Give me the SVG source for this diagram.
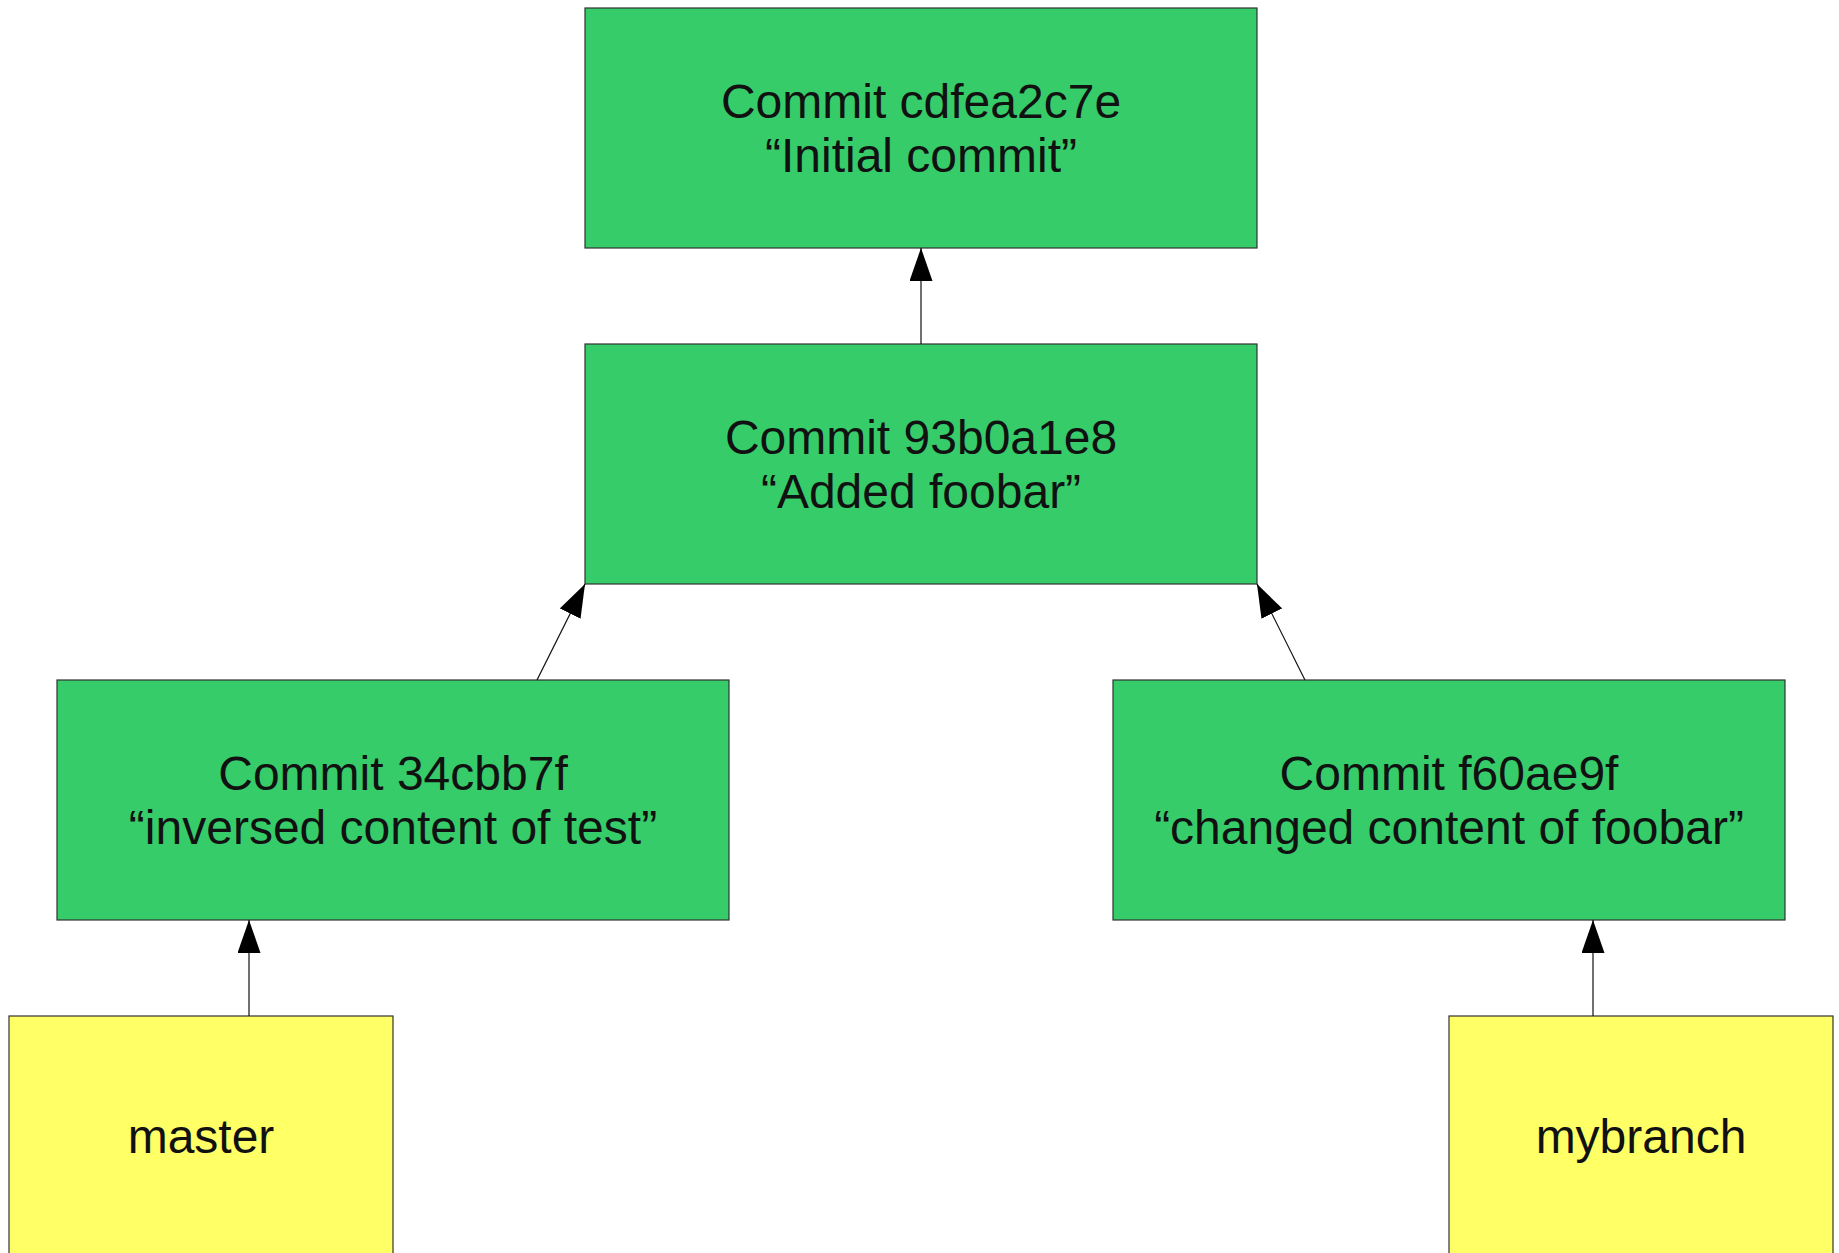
<svg xmlns="http://www.w3.org/2000/svg" width="1839" height="1253" viewBox="0 0 1839 1253">
<style>
.commit{fill:#36cc6a;stroke:#333;stroke-width:1.2}
.ref{fill:#ffff66;stroke:#333;stroke-width:1.2}
text{font-family:"Liberation Sans",Arial,sans-serif;font-size:48px;fill:#111;text-anchor:middle}
.edge{stroke:#111;stroke-width:1.2;fill:none;marker-end:url(#arrow)}
</style>
<defs>
<marker id="arrow" viewBox="0 0 33 23" refX="33" refY="11.5" markerWidth="33" markerHeight="23" markerUnits="userSpaceOnUse" orient="auto">
<path d="M0,0 L33,11.5 L0,23 z" fill="#000"/>
</marker>
</defs>
<rect width="1839" height="1253" fill="#fff"/>
<g id="c-cdfea2c7e">
<rect class="commit" x="585" y="8" width="672" height="240"/>
<text x="921" y="118">Commit cdfea2c7e</text>
<text x="921" y="172">“Initial commit”</text>
</g>
<g id="c-93b0a1e8">
<rect class="commit" x="585" y="344" width="672" height="240"/>
<text x="921" y="454">Commit 93b0a1e8</text>
<text x="921" y="508">“Added foobar”</text>
</g>
<g id="c-34cbb7f">
<rect class="commit" x="57" y="680" width="672" height="240"/>
<text x="393" y="790">Commit 34cbb7f</text>
<text x="393" y="844">“inversed content of test”</text>
</g>
<g id="c-f60ae9f">
<rect class="commit" x="1113" y="680" width="672" height="240"/>
<text x="1449" y="790">Commit f60ae9f</text>
<text x="1449" y="844">“changed content of foobar”</text>
</g>
<g id="master">
<rect class="ref" x="9" y="1016" width="384" height="240"/>
<text x="201" y="1153">master</text>
</g>
<g id="mybranch">
<rect class="ref" x="1449" y="1016" width="384" height="240"/>
<text x="1641" y="1153">mybranch</text>
</g>
<g id="connectors">
<line class="edge" x1="921" y1="344" x2="921" y2="248"/>
<line class="edge" x1="537" y1="680" x2="585" y2="584"/>
<line class="edge" x1="1305" y1="680" x2="1257" y2="584"/>
<line class="edge" x1="249" y1="1016" x2="249" y2="920"/>
<line class="edge" x1="1593" y1="1016" x2="1593" y2="920"/>
</g>
</svg>
